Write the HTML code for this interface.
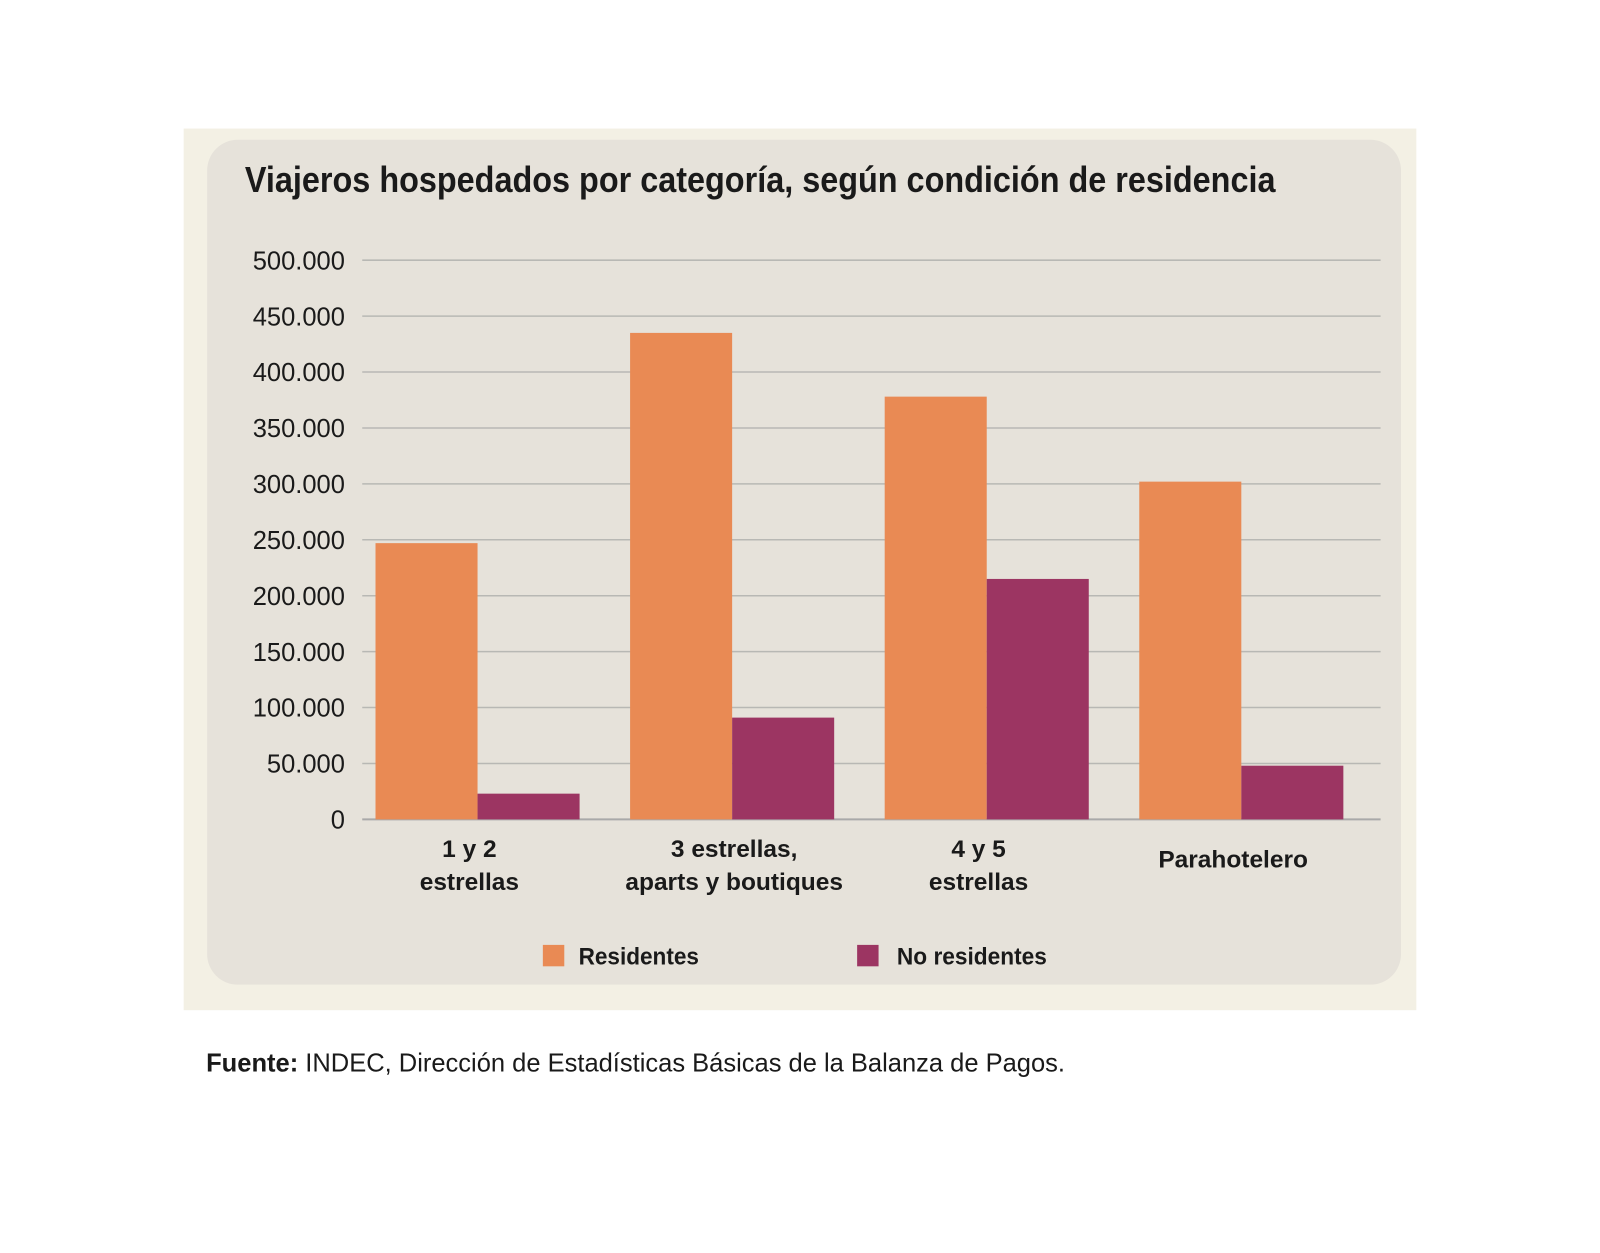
<!DOCTYPE html>
<html><head><meta charset="utf-8"><style>
html,body{margin:0;padding:0;background:#fff;width:1600px;height:1253px;overflow:hidden;}
svg{display:block;font-family:"Liberation Sans",sans-serif;}
</style></head><body>
<svg id="chart" width="1600" height="1253" viewBox="0 0 1600 1253">
<g transform="scale(1.0204)">
<rect x="180" y="126" width="1208" height="864" fill="#f3f0e4"/>
<rect x="203" y="137" width="1170" height="828" rx="30" fill="#e6e2da"/>
<text x="240" y="188" font-size="35" font-weight="bold" fill="#1a1a1a" textLength="1010" lengthAdjust="spacingAndGlyphs">Viajeros hospedados por categoría, según condición de residencia</text>
<g id="grid"></g><g id="bars"></g><g id="xlabels"></g>
<rect x="532" y="926" width="21" height="21" fill="#e98a54"/>
<text x="567" y="945" font-size="24" font-weight="bold" fill="#1a1a1a" textLength="118" lengthAdjust="spacingAndGlyphs">Residentes</text>
<rect x="840" y="926" width="21" height="21" fill="#9c3562"/>
<text x="879" y="945" font-size="24" font-weight="bold" fill="#1a1a1a" textLength="147" lengthAdjust="spacingAndGlyphs">No residentes</text>
<text x="202" y="1050" font-size="25" fill="#1a1a1a"><tspan font-weight="bold">Fuente:</tspan> INDEC, Dirección de Estadísticas Básicas de la Balanza de Pagos.</text>
</g>
</svg>
<script>
const categories=[["1 y 2","estrellas"],["3 estrellas,","aparts y boutiques"],["4 y 5","estrellas"],["Parahotelero"]];
const residentes=[247000,435000,378000,302000];
const noResidentes=[23000,91000,215000,48000];
const ticks=[0,50000,100000,150000,200000,250000,300000,350000,400000,450000,500000];
const tickLabels=["0","50.000","100.000","150.000","200.000","250.000","300.000","350.000","400.000","450.000","500.000"];
const NS="http://www.w3.org/2000/svg";
const y0=803,y1=255,xL=355,xR=1353;
const y=v=>y0-(v/500000)*(y0-y1);
const bw=100;
function mk(t,a){const e=document.createElementNS(NS,t);for(const k in a)e.setAttribute(k,a[k]);return e;}
const grid=document.getElementById('grid');
ticks.forEach((t,i)=>{
  const l=mk('line',{x1:xL,x2:xR,y1:y(t),y2:y(t),stroke:i===0?'#a9a9a9':'#b8b8b4','stroke-width':i===0?2:1.5});
  
  
  grid.appendChild(l);
  const tx=mk('text',{x:338,y:y(t)+9,'text-anchor':'end','font-size':25,fill:'#1a1a1a'});
  tx.textContent=tickLabels[i];
  
  
  grid.appendChild(tx);
});
const bars=document.getElementById('bars'),xl=document.getElementById('xlabels');
categories.forEach((c,i)=>{
  const cx=368+i*249.5+bw;
  const r=mk('rect',{x:cx-bw,y:y(residentes[i]),width:bw,height:y0-y(residentes[i]),fill:'#e98a54'});
  
  
  bars.appendChild(r);
  const n=mk('rect',{x:cx,y:y(noResidentes[i]),width:bw,height:y0-y(noResidentes[i]),fill:'#9c3562'});
  
  
  bars.appendChild(n);
  c.forEach((s,j)=>{
    const yy=c.length===1?850:840+j*32;
    const t=mk('text',{x:cx-8+(i===1?10:0),y:yy,'text-anchor':'middle','font-size':24,'font-weight':'bold',fill:'#1a1a1a'});
    t.textContent=s;
    
    
    xl.appendChild(t);
  });
});
</script>
</body></html>
